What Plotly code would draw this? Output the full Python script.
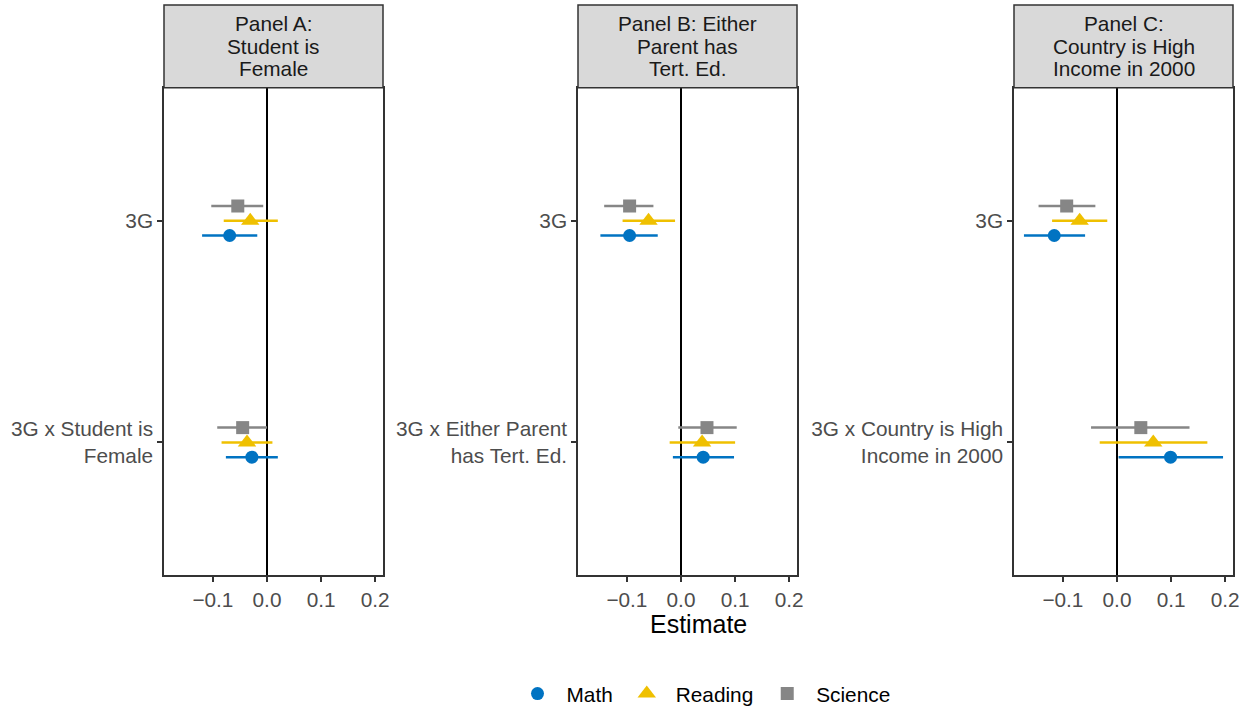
import plotly.graph_objects as go

# ---------------- data ----------------
panel_titles = ["Panel A:<br>Student is<br>Female",
                "Panel B: Either<br>Parent has<br>Tert. Ed.",
                "Panel C:<br>Country is High<br>Income in 2000"]
terms_a = ["3G", "3G x Student is<br>Female"]
terms_b = ["3G", "3G x Either Parent<br>has Tert. Ed."]
terms_c = ["3G", "3G x Country is High<br>Income in 2000"]
panel_terms = [terms_a, terms_b, terms_c]

subjects = ["Math", "Reading", "Science"]
# order within each list: panel A (3G, interaction), panel B (...), panel C (...)
math_est = [-0.069, -0.028, -0.095, 0.041, -0.116, 0.099]
math_lo = [-0.120, -0.076, -0.149, -0.015, -0.172, 0.003]
math_hi = [-0.018, 0.020, -0.043, 0.098, -0.059, 0.196]
reading_est = [-0.031, -0.037, -0.060, 0.039, -0.069, 0.067]
reading_lo = [-0.080, -0.084, -0.108, -0.021, -0.120, -0.032]
reading_hi = [0.020, 0.010, -0.011, 0.100, -0.018, 0.167]
science_est = [-0.054, -0.045, -0.095, 0.048, -0.093, 0.044]
science_lo = [-0.103, -0.092, -0.142, -0.005, -0.145, -0.048]
science_hi = [-0.007, 0.000, -0.051, 0.103, -0.040, 0.134]
x_ticks = [-0.1, 0.0, 0.1, 0.2]
x_tick_labels = ["\u22120.1", "0.0", "0.1", "0.2"]

# ---------------- style ----------------
W, H = 1249, 715
FONT = "Liberation Sans, Arial, Helvetica, sans-serif"
FS = 20.8
colors = {"Math": "#0073C2", "Reading": "#EFC000", "Science": "#868686"}
symbols = {"Math": "circle", "Reading": "triangle-up", "Science": "square"}
msize = {"Math": 13, "Reading": 16, "Science": 13}
dodge = {"Math": 0.0667, "Reading": 0.0, "Science": -0.0667}
series = {
    "Math": (math_est, math_lo, math_hi),
    "Reading": (reading_est, reading_lo, reading_hi),
    "Science": (science_est, science_lo, science_hi),
}

# panel pixel boxes
px_left = [164, 578, 1014]
px_width = 219
px_top, px_bot = 88, 577
strip_top = 5


def py(y):
    return (H - y) / H


lo_all = math_lo + reading_lo + science_lo
hi_all = math_hi + reading_hi + science_hi
span = max(hi_all) - min(lo_all)
x_range = [min(lo_all) - 0.05 * span, max(hi_all) + 0.05 * span]

fig = go.Figure()

for p in range(3):
    xa = "x" if p == 0 else f"x{p+1}"
    ya = "y" if p == 0 else f"y{p+1}"
    for s in subjects:
        est, lo, hi = series[s]
        xs = est[2 * p: 2 * p + 2]
        los = lo[2 * p: 2 * p + 2]
        his = hi[2 * p: 2 * p + 2]
        ys = [i + 1 + dodge[s] for i in range(2)]
        fig.add_trace(go.Scatter(
            x=xs, y=ys, mode="markers",
            xaxis=xa, yaxis=ya,
            name=s, legendgroup=s, showlegend=(p == 0),
            marker=dict(color=colors[s], symbol=symbols[s], size=msize[s],
                        line=dict(width=0)),
            error_x=dict(type="data", symmetric=False,
                         array=[h - x for h, x in zip(his, xs)],
                         arrayminus=[x - l for x, l in zip(xs, los)],
                         color=colors[s], thickness=2.5, width=0),
        ))

layout = dict(
    width=W, height=H,
    margin=dict(l=0, r=0, t=0, b=0),
    paper_bgcolor="white", plot_bgcolor="white",
    font=dict(family=FONT, size=FS, color="#4D4D4D"),
    showlegend=True,
    legend=dict(orientation="h", x=702 / W, xanchor="center",
                y=py(696), yanchor="middle",
                font=dict(size=FS, color="#000000"),
                itemwidth=48, bgcolor="rgba(0,0,0,0)"),
)

shapes = []
annotations = []
y_dom = [py(px_bot), py(px_top)]
line_gap = 22.5
for p in range(3):
    suffix = "" if p == 0 else str(p + 1)
    x_dom = [px_left[p] / W, (px_left[p] + px_width) / W]
    layout["xaxis" + suffix] = dict(
        domain=x_dom, anchor="y" + suffix, range=x_range,
        tickvals=x_ticks, ticktext=x_tick_labels,
        ticks="outside", ticklen=5, tickwidth=1.5, tickcolor="#333333",
        showgrid=False, zeroline=True, zerolinecolor="#000000", zerolinewidth=2,
        showline=True, mirror=True, linecolor="#333333", linewidth=1.5,
        tickfont=dict(size=FS, color="#4D4D4D"), automargin=False,
    )
    layout["yaxis" + suffix] = dict(
        domain=y_dom, anchor="x" + suffix, range=[2.6, 0.4],
        tickvals=[1, 2], ticktext=panel_terms[p],
        ticks="outside", ticklen=5, tickwidth=1.5, tickcolor="#333333",
        showgrid=False, zeroline=False,
        showline=True, mirror=True, linecolor="#333333", linewidth=1.5,
        tickfont=dict(size=FS, color="#4D4D4D"), automargin=False,
    )
    # strip
    shapes.append(dict(type="rect", xref="paper", yref="paper",
                       x0=x_dom[0], x1=x_dom[1],
                       y0=py(px_top), y1=py(strip_top),
                       fillcolor="#D9D9D9", line=dict(color="#333333", width=1.5),
                       layer="above"))
    lines = panel_titles[p].split("<br>")
    mid = (px_top + strip_top) / 2
    for k, ln in enumerate(lines):
        yc = mid + (k - (len(lines) - 1) / 2) * line_gap
        annotations.append(dict(text=ln, xref="paper", yref="paper",
                                x=(x_dom[0] + x_dom[1]) / 2, y=py(yc),
                                xanchor="center", yanchor="middle", showarrow=False,
                                font=dict(size=FS, color="#1A1A1A")))

annotations.append(dict(text="Estimate", xref="paper", yref="paper",
                        x=698.5 / W, y=py(626), xanchor="center",
                        yanchor="middle", showarrow=False,
                        font=dict(size=25, color="#000000")))

layout["shapes"] = shapes
layout["annotations"] = annotations
fig.update_layout(**layout)
fig.write_html(
    "out.html",
    config={"displayModeBar": False},
    post_script="document.body.style.margin='0';document.body.style.overflow='hidden';",
)
